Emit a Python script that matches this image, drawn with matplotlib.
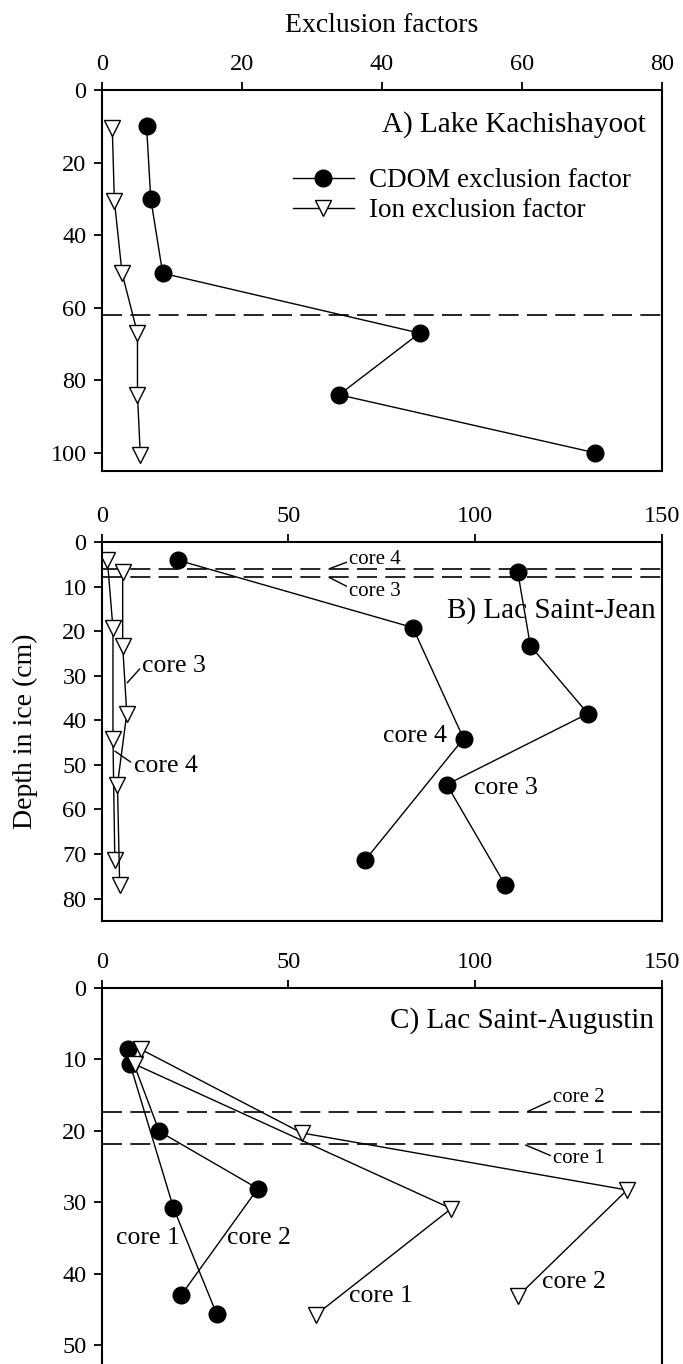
import numpy as np
import matplotlib.pyplot as plt

plt.rcParams['font.family'] = 'Liberation Serif'

# A) Lake Kachishayoot
depth_a = [10, 30, 50.5, 67, 84, 100]
cdom_a = [6.4, 7.0, 8.7, 45.4, 33.9, 70.5]
ion_depth_a = [10.5, 30.5, 50.5, 67, 84, 100.5]
ion_a = [1.5, 1.8, 2.9, 5.1, 5.1, 5.5]
ice_a = 62

# B) Lac Saint-Jean (cores 3 and 4)
depth_b4 = [4.1, 19.2, 44.1, 71.4]
cdom_b4 = [20.4, 83.3, 96.9, 70.5]
depth_b3 = [6.7, 23.3, 38.5, 54.4, 77.0]
cdom_b3 = [111.4, 114.8, 130.2, 92.4, 108.1]
ion_depth_b4 = [4.0, 19.4, 44.3, 71.4]
ion_b4 = [1.5, 3.0, 3.0, 3.5]
ion_depth_b3 = [6.7, 23.3, 38.5, 54.4, 77.0]
ion_b3 = [5.6, 5.6, 6.7, 4.2, 4.8]
ice_b4, ice_b3 = 6.1, 7.9

# C) Lac Saint-Augustin (cores 1 and 2)
depth_c1 = [10.7, 30.8, 45.7]
cdom_c1 = [7.6, 19.2, 30.8]
depth_c2 = [8.55, 20.1, 28.1, 43.0]
cdom_c2 = [7.1, 15.4, 41.8, 21.3]
ion_depth_c1 = [10.7, 30.9, 45.8]
ion_c1 = [8.9, 93.6, 57.3]
ion_depth_c2 = [8.6, 20.3, 28.3, 43.2]
ion_c2 = [10.5, 53.5, 140.7, 111.4]
ice_c2, ice_c1 = 17.4, 21.8

cdom_style = dict(color='black', lw=1.0, marker='o', ms=12, mfc='black', mec='black')
ion_style = dict(color='black', lw=1.0, marker='v', ms=12, mfc='white', mec='black', mew=1.0)
dash_style = dict(color='black', lw=1.2, dashes=(12, 5))

fig = plt.figure(figsize=(6.83, 13.64), dpi=100)
axA = fig.add_axes([0.149, 0.6547, 0.820, 0.2793])
axB = fig.add_axes([0.149, 0.3248, 0.820, 0.2779])
axC = fig.add_axes([0.149, -0.0122, 0.820, 0.2879])


def setup(ax, xmax, xticks, ymax, yticks):
    ax.set_xlim(0, xmax)
    ax.set_ylim(ymax, 0)
    ax.xaxis.tick_top()
    ax.set_xticks(xticks)
    ax.set_yticks(yticks)
    ax.tick_params(direction='out', length=6, width=1.3, labelsize=17.5, pad=5)
    for s in ax.spines.values():
        s.set_linewidth(1.5)


setup(axA, 80, [0, 20, 40, 60, 80], 105, [0, 20, 40, 60, 80, 100])
setup(axB, 150, [0, 50, 100, 150], 85, [0, 10, 20, 30, 40, 50, 60, 70, 80])
setup(axC, 150, [0, 50, 100, 150], 55, [0, 10, 20, 30, 40, 50])

# panel A
axA.axhline(ice_a, **dash_style)
axA.plot(cdom_a, depth_a, label='CDOM exclusion factor', **cdom_style)
axA.plot(ion_a, ion_depth_a, label='Ion exclusion factor', **ion_style)
axA.legend(loc='upper left', bbox_to_anchor=(27.3, 21.5), bbox_transform=axA.transData,
           frameon=False, fontsize=19.5, handlelength=2.25, handletextpad=0.55,
           labelspacing=0.2, borderpad=0, borderaxespad=0)
axA.text(77.7, 9.6, 'A) Lake Kachishayoot', ha='right', va='center', fontsize=21)

# panel B
axB.axhline(ice_b4, **dash_style)
axB.axhline(ice_b3, **dash_style)
axB.plot(cdom_b4, depth_b4, **cdom_style)
axB.plot(cdom_b3, depth_b3, **cdom_style)
axB.plot(ion_b4, ion_depth_b4, **ion_style)
axB.plot(ion_b3, ion_depth_b3, **ion_style)
axB.text(148.5, 15.3, 'B) Lac Saint-Jean', ha='right', va='center', fontsize=21)

lead = dict(arrowstyle='-', lw=1.0, shrinkA=0, shrinkB=0)
axB.annotate('core 3', xy=(6.8, 31.6), xytext=(10.9, 27.8), ha='left', va='center',
             fontsize=18.5, arrowprops=dict(relpos=(0, 0.5), **lead))
axB.annotate('core 4', xy=(3.5, 46.9), xytext=(8.5, 50.3), ha='left', va='center',
             fontsize=18.5, arrowprops=dict(relpos=(0, 0.6), **lead))
axB.annotate('core 4', xy=(61, 6.0), xytext=(66.3, 3.9), ha='left', va='center',
             fontsize=15, arrowprops=dict(relpos=(0, 0.4), **lead))
axB.annotate('core 3', xy=(61, 8.0), xytext=(66.3, 11.1), ha='left', va='center',
             fontsize=15, arrowprops=dict(relpos=(0, 0.7), **lead))
axB.text(92.5, 43.5, 'core 4', ha='right', va='center', fontsize=18.5)
axB.text(99.8, 55.1, 'core 3', ha='left', va='center', fontsize=18.5)

# panel C
axC.axhline(ice_c2, **dash_style)
axC.axhline(ice_c1, **dash_style)
axC.plot(cdom_c1, depth_c1, **cdom_style)
axC.plot(cdom_c2, depth_c2, **cdom_style)
axC.plot(ion_c1, ion_depth_c1, **ion_style)
axC.plot(ion_c2, ion_depth_c2, **ion_style)
axC.text(148, 4.6, 'C) Lac Saint-Augustin', ha='right', va='center', fontsize=21)

axC.annotate('core 2', xy=(114.1, 17.3), xytext=(120.9, 15.4), ha='left', va='center',
             fontsize=15, arrowprops=dict(relpos=(0, 0.4), **lead))
axC.annotate('core 1', xy=(113.5, 22.0), xytext=(120.9, 23.9), ha='left', va='center',
             fontsize=15, arrowprops=dict(relpos=(0, 0.6), **lead))
axC.text(20.8, 35.0, 'core 1', ha='right', va='center', fontsize=18.5)
axC.text(33.6, 35.0, 'core 2', ha='left', va='center', fontsize=18.5)
axC.text(66.3, 43.2, 'core 1', ha='left', va='center', fontsize=18.5)
axC.text(118, 41.2, 'core 2', ha='left', va='center', fontsize=18.5)

fig.text(382 / 683, 1 - 25 / 1364, 'Exclusion factors', ha='center', va='center', fontsize=20)
fig.text(25 / 683, 1 - 731 / 1364, 'Depth in ice (cm)', ha='center', va='center',
         rotation=90, fontsize=20)

fig.savefig('out.png', dpi=100)
